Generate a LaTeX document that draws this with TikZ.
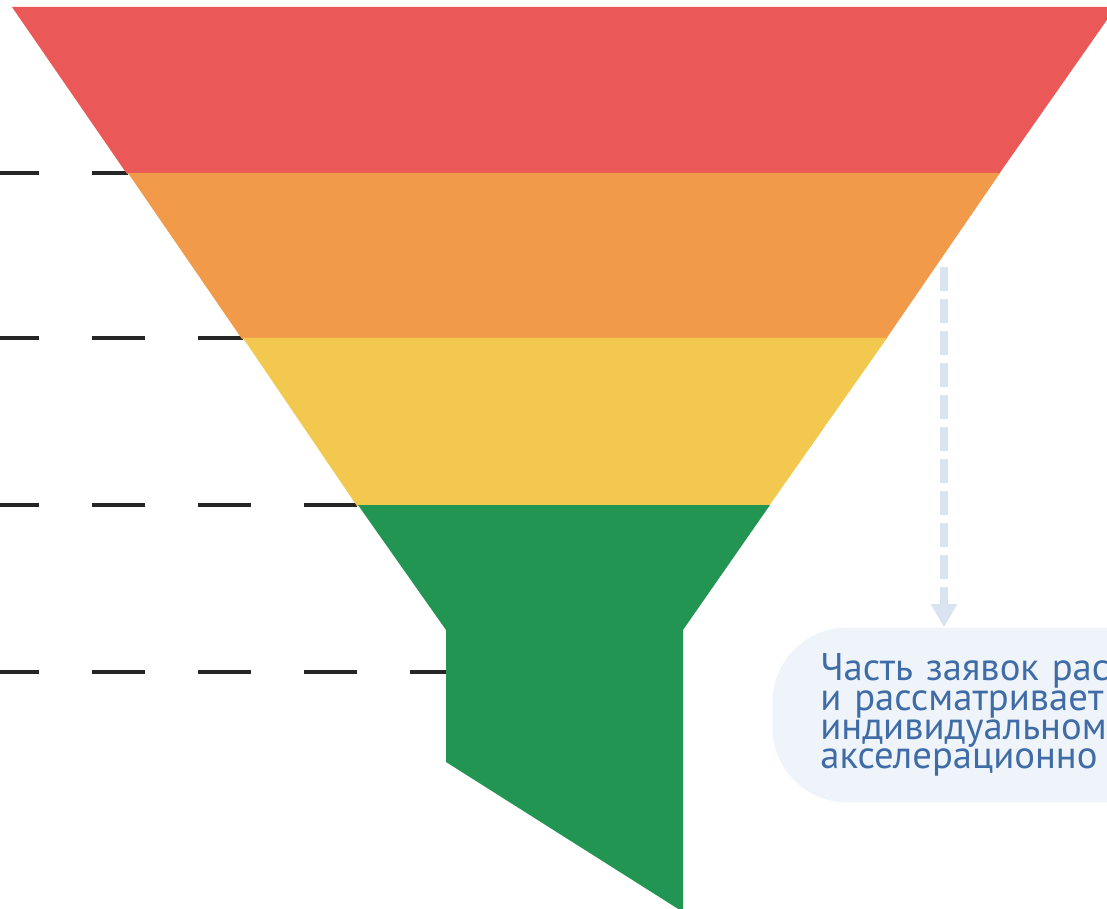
\documentclass[tikz,border=0pt]{standalone}
\usepackage{fontspec}
\setmainfont{PT Sans}
\usepackage{tikz}
\usetikzlibrary{arrows.meta}

\definecolor{funnelred}{HTML}{EA5857}
\definecolor{funnelorange}{HTML}{F19A4A}
\definecolor{funnelyellow}{HTML}{F2C84E}
\definecolor{funnelgreen}{HTML}{229553}
\definecolor{flowblue}{HTML}{DAE4F0}
\definecolor{noteback}{HTML}{EFF4FA}
\definecolor{notefont}{HTML}{3F6CA6}

\tikzset{
  guide/.style={draw=black!85, line width=1.9pt, dash pattern=on 1.06cm off 1.06cm},
  flow/.style={draw=flowblue, line width=4.5pt, dash pattern=on 0.48cm off 0.16cm,
    -{Triangle[width=0.5cm,length=0.46cm]}},
  notebox/.style={fill=noteback, rounded corners=1.5cm, minimum height=3.5cm,
    anchor=west, inner xsep=0.96cm, inner ysep=0pt, text width=9cm, align=left,
    text=notefont, font=\fontsize{22pt}{16.6pt}\selectfont},
}

\begin{document}
\begin{tikzpicture}[x=0.02cm,y=-0.02cm]
	\useasboundingbox (0,0) rectangle (1107,909);
	\clip (0,0) rectangle (1107,909);
	% dashed levels
	\foreach \y/\x in {173/128, 338/243, 505/358, 672/446}
		\draw[guide] (-14,\y) -- (\x,\y);
	% funnel
	\fill[funnelred] (12,7) -- (1116,7) -- (999,174) -- (127,174) -- cycle;
	\fill[funnelorange] (128,173) -- (1000,173) -- (886,339) -- (242,339) -- cycle;
	\fill[funnelyellow] (243,338) -- (887,338) -- (769,506) -- (357,506) -- cycle;
	\fill[funnelgreen] (358,505) -- (770,505) -- (683,630) -- (683,912)
		-- (446,762) -- (446,630) -- cycle;
	% note
	\node[notebox] (note) at (772,715) {Часть заявок рас\\и рассматривает\\индивидуальном\\акселерационно};
	\coordinate (flowstart) at (944,267);
	\draw[flow] (flowstart) -- (flowstart |- note.north);
\end{tikzpicture}
\end{document}
